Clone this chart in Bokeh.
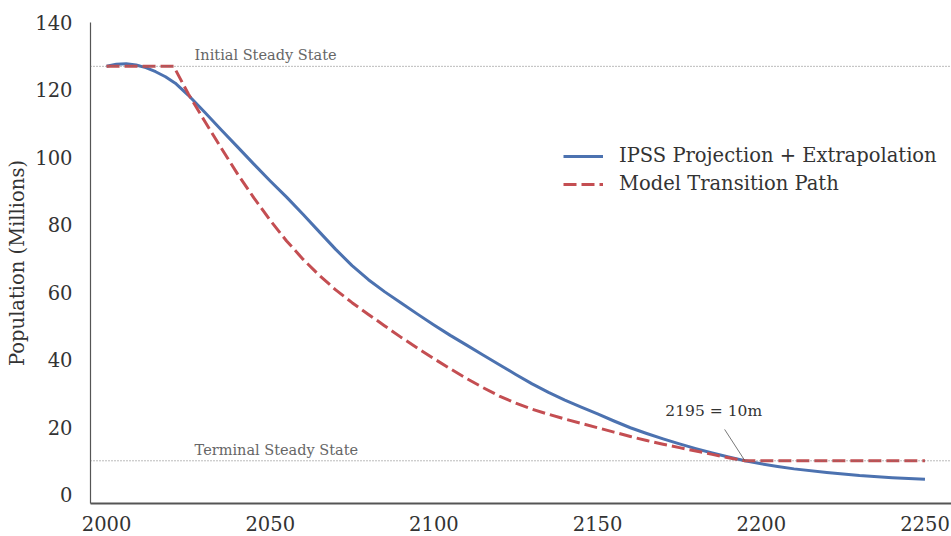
from bokeh.plotting import figure
from bokeh.models import Span, Label, FixedTicker, Legend, LegendItem, Range1d
from bokeh.embed import file_html
from bokeh.resources import INLINE

# IPSS projection + extrapolation (millions)
ipss_years = [2000, 2003, 2006, 2009, 2012, 2015, 2018, 2021, 2025, 2030, 2035, 2040,
              2045, 2050, 2055, 2060, 2065, 2070, 2075, 2080, 2085, 2090, 2095, 2100,
              2105, 2110, 2115, 2120, 2125, 2130, 2135, 2140, 2145, 2150, 2155, 2160,
              2165, 2170, 2175, 2180, 2185, 2190, 2195, 2200, 2205, 2210, 2220, 2230,
              2240, 2250]
ipss_pop = [127.0, 127.6, 127.8, 127.4, 126.6, 125.4, 123.9, 122.0, 118.4, 113.4, 108.2, 103.1,
            98.0, 93.0, 88.2, 83.1, 77.9, 72.7, 67.9, 63.7, 60.1, 56.8, 53.5, 50.3,
            47.2, 44.3, 41.4, 38.5, 35.6, 32.8, 30.3, 28.0, 25.9, 23.9, 21.8, 19.8,
            18.1, 16.5, 15.0, 13.6, 12.3, 11.1, 10.0, 9.1, 8.3, 7.6, 6.5, 5.6,
            5.0, 4.5]

# Model transition path (millions)
model_years = [2000, 2020.5, 2025, 2030, 2035, 2040, 2045, 2050, 2055, 2060, 2065, 2070,
               2075, 2080, 2085, 2090, 2095, 2100, 2105, 2110, 2115, 2120, 2125, 2130,
               2135, 2140, 2145, 2150, 2155, 2160, 2165, 2170, 2175, 2180, 2185, 2190,
               2195, 2250]
model_pop = [127.0, 127.0, 118.8, 110.7, 102.8, 95.1, 88.0, 81.3, 75.2, 69.8, 65.0, 60.7,
             56.9, 53.4, 50.0, 46.6, 43.4, 40.3, 37.3, 34.4, 31.7, 29.2, 27.1, 25.3,
             23.8, 22.4, 21.1, 19.8, 18.5, 17.2, 16.0, 14.9, 13.9, 12.9, 11.9, 10.9,
             10.0, 10.0]

initial_ss = 127.0
terminal_ss = 10.0
x_ticks = [2000, 2050, 2100, 2150, 2200, 2250]
y_ticks = [0, 20, 40, 60, 80, 100, 120, 140]

FONT = "DejaVu Serif"

p = figure(frame_width=861, frame_height=481, output_backend="svg", toolbar_location=None,
           x_range=Range1d(1995.1, 2258.1), y_range=Range1d(-2.67, 140.0),
           min_border_left=90, min_border_right=0, min_border_top=22, min_border_bottom=33)
p.outline_line_color = None
p.xgrid.visible = False
p.ygrid.visible = False
p.background_fill_color = "white"
p.border_fill_color = "white"

blue = p.line(ipss_years, ipss_pop, line_color="#4C72B0", line_width=3, line_join="round")
red = p.line(model_years, model_pop, line_color="#C44E52", line_width=3, line_dash="13 5",
             line_join="round")

for loc in (initial_ss, terminal_ss):
    p.add_layout(Span(location=loc, dimension="width", line_color="#777777",
                      line_width=1, line_dash="1 2"))

p.add_layout(Label(x=2026.9, y=initial_ss + 0.9, text="Initial Steady State", text_font=FONT,
                   text_font_size="14.5px", text_color="#666666"))
p.add_layout(Label(x=2026.9, y=terminal_ss + 0.9, text="Terminal Steady State", text_font=FONT,
                   text_font_size="14.5px", text_color="#666666"))
p.add_layout(Label(x=2170.7, y=22.0, text="2195 = 10m", text_font=FONT,
                   text_font_size="15.5px", text_color="#333333"))
p.line([2188.8, 2195.0], [19.3, 10.0], line_color="#555555", line_width=0.8)

legend = Legend(items=[LegendItem(label="IPSS Projection + Extrapolation", renderers=[blue]),
                       LegendItem(label="Model Transition Path", renderers=[red])],
                location=(473, 308), border_line_alpha=0, background_fill_alpha=0,
                label_text_font=FONT, label_text_font_size="19.5px", label_text_color="#333333",
                glyph_width=40, label_standoff=16, spacing=5, padding=0, margin=0)
p.add_layout(legend)

for ax in (p.xaxis[0], p.yaxis[0]):
    ax.major_tick_line_color = None
    ax.minor_tick_line_color = None
    ax.major_label_text_font = FONT
    ax.major_label_text_font_size = "19.5px"
    ax.major_label_text_color = "#333333"
    ax.axis_line_color = "#555555"

p.xaxis[0].ticker = FixedTicker(ticks=x_ticks)
p.yaxis[0].ticker = FixedTicker(ticks=y_ticks)
p.xaxis[0].axis_line_width = 2
p.yaxis[0].axis_line_width = 1.2
p.xaxis[0].major_label_standoff = 6
p.yaxis[0].major_label_standoff = 12
p.yaxis[0].axis_label = "Population (Millions)"
p.yaxis[0].axis_label_text_font = FONT
p.yaxis[0].axis_label_text_font_size = "19.5px"
p.yaxis[0].axis_label_text_font_style = "normal"
p.yaxis[0].axis_label_text_color = "#333333"
p.yaxis[0].axis_label_standoff = 3

open("out.html", "w").write(file_html(p, INLINE))
